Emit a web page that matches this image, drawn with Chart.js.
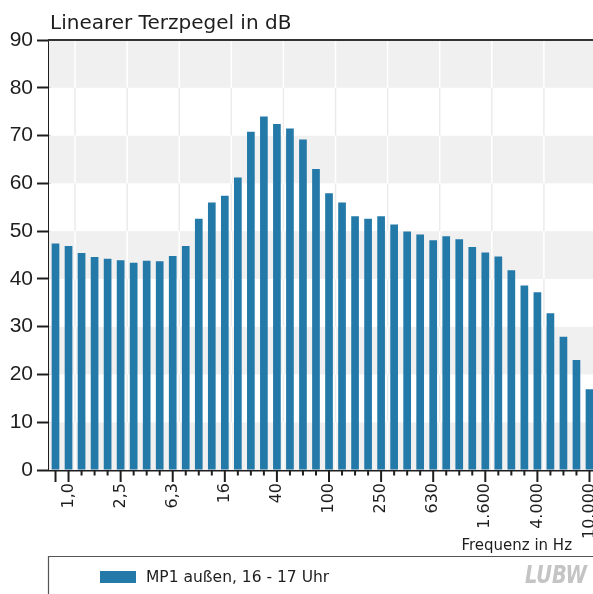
<!DOCTYPE html>
<html>
<head>
<meta charset="utf-8">
<script src="https://cdn.jsdelivr.net/npm/chart.js@4/dist/chart.umd.min.js"></script>
<style>
  html, body { margin: 0; padding: 0; overflow: hidden; background: #ffffff; }
  canvas { display: block; }
</style>
</head>
<body>
<canvas id="c" width="600" height="594"></canvas>
<script>
// Terzband mid frequencies (Hz)
const bands = ['0,8','1,0','1,25','1,6','2,0','2,5','3,15','4,0','5,0','6,3','8,0','10','12,5','16','20','25','31,5','40','50','63','80','100','125','160','200','250','315','400','500','630','800','1.000','1.250','1.600','2.000','2.500','3.150','4.000','5.000','6.300','8.000','10.000'];
// Linear third-octave level in dB, MP1 außen 16-17 Uhr
const levels = [47.4, 46.9, 45.4, 44.6, 44.2, 43.9, 43.4, 43.8, 43.7, 44.8,
                46.9, 52.6, 56.0, 57.4, 61.2, 70.8, 74.0, 72.4, 71.5, 69.2,
                63.0, 57.9, 56.0, 53.1, 52.6, 53.1, 51.4, 49.9, 49.3, 48.1,
                48.9, 48.3, 46.7, 45.5, 44.7, 41.8, 38.6, 37.2, 32.8, 27.9,
                23.0, 16.9];
const shownTicks = ['1,0','2,5','6,3','16','40','100','250','630','1.600','4.000','10.000'];
const seriesLabel = 'MP1 außen, 16 - 17 Uhr';
const yTitle = 'Linearer Terzpegel in dB';
const xTitle = 'Frequenz in Hz';

const BAR = '#2379a8';
const GRAY = '#f0f0f0';
const INK = '#1e1e1e';

const deco = {
  id: 'deco',
  beforeDatasetsDraw(chart) {
    const {ctx, chartArea: a, scales: {x, y}} = chart;
    ctx.save();
    for (let v = 0; v < 90; v += 10) {
      const top = y.getPixelForValue(v + 10), bot = y.getPixelForValue(v);
      const gray = (v / 10) % 2 === 0;
      ctx.fillStyle = gray ? GRAY : '#ffffff';
      ctx.fillRect(a.left, top, chart.width - a.left, bot - top);
      ctx.strokeStyle = gray ? '#ffffff' : '#ebebeb';
      ctx.lineWidth = 1.5;
      for (let k = 1; k + 1 < bands.length; k += 4) {
        const xl = (x.getPixelForValue(k) + x.getPixelForValue(k + 1)) / 2;
        ctx.beginPath();
        ctx.moveTo(xl, top);
        ctx.lineTo(xl, bot);
        ctx.stroke();
      }
    }
    ctx.restore();
  },
  afterDraw(chart) {
    const {ctx, chartArea: a, scales: {x}} = chart;
    const W = chart.width;
    ctx.save();
    // top frame line
    ctx.strokeStyle = '#333333';
    ctx.lineWidth = 2;
    ctx.beginPath();
    ctx.moveTo(a.left - 1, a.top);
    ctx.lineTo(W, a.top);
    ctx.stroke();
    // x tick marks
    ctx.strokeStyle = INK;
    ctx.lineWidth = 2;
    for (let k = 0; k < bands.length; k++) {
      const px = x.getPixelForValue(k);
      const major = shownTicks.includes(bands[k]) || k === 0;
      ctx.beginPath();
      ctx.moveTo(px, a.bottom);
      ctx.lineTo(px, a.bottom + (major ? 12 : 5.5));
      ctx.stroke();
    }
    // titles
    ctx.fillStyle = INK;
    ctx.textBaseline = 'alphabetic';
    ctx.font = '20px "DejaVu Sans"';
    ctx.textAlign = 'left';
    ctx.fillText(yTitle, 50, 29);
    ctx.font = '15px "DejaVu Sans"';
    ctx.textAlign = 'right';
    ctx.fillText(xTitle, 572, 550);
    // legend box
    ctx.strokeStyle = '#555555';
    ctx.lineWidth = 1.2;
    ctx.beginPath();
    ctx.moveTo(W, 556.5);
    ctx.lineTo(48.5, 556.5);
    ctx.lineTo(48.5, 600);
    ctx.stroke();
    const ds = chart.data.datasets[0];
    ctx.fillStyle = ds.backgroundColor;
    ctx.fillRect(100, 571, 36, 12);
    ctx.fillStyle = INK;
    ctx.textAlign = 'left';
    ctx.textBaseline = 'middle';
    ctx.font = '15.5px "DejaVu Sans"';
    ctx.fillText(ds.label, 146, 577.5);
    // logo
    ctx.fillStyle = '#c4c4c4';
    ctx.font = 'italic bold 24px "DejaVu Sans Condensed", "Liberation Sans Narrow", "Liberation Sans", sans-serif';
    const lw = ctx.measureText('LUBW').width;
    ctx.translate(525, 577);
    ctx.scale(62 / lw, 1);
    ctx.fillText('LUBW', 0, 0);
    ctx.restore();
  }
};

new Chart(document.getElementById('c'), {
  type: 'bar',
  data: {
    labels: bands,
    datasets: [{
      label: seriesLabel,
      data: levels,
      backgroundColor: BAR,
      borderWidth: 0,
      barPercentage: 0.59,
      categoryPercentage: 1.0
    }]
  },
  options: {
    responsive: false,
    animation: false,
    devicePixelRatio: 1,
    layout: { padding: { top: 40, right: 4, left: 0, bottom: 0 } },
    plugins: { legend: { display: false }, tooltip: { enabled: false }, title: { display: false } },
    scales: {
      x: {
        z: 1,
        offset: true,
        grid: { display: false, drawTicks: false },
        border: { display: true, color: INK, width: 2.5 },
        ticks: {
          autoSkip: false,
          maxRotation: 90,
          minRotation: 90,
          padding: 13,
          color: INK,
          font: { family: 'DejaVu Sans', size: 16 },
          callback: function(v, i) {
            const l = bands[i];
            return shownTicks.includes(l) ? l : '';
          }
        },
        afterFit(s) { s.height = 124; s.paddingLeft = 0; s.paddingRight = 0; }
      },
      y: {
        z: 1,
        min: 0,
        max: 90,
        grid: { drawOnChartArea: false, drawTicks: true, tickLength: 12, tickColor: INK, tickWidth: 2 },
        border: { display: true, color: INK, width: 2.5 },
        ticks: {
          stepSize: 10,
          padding: 4,
          color: INK,
          font: { family: 'Liberation Sans', size: 21 }
        },
        afterFit(s) { s.width = 49; }
      }
    }
  },
  plugins: [deco]
});
</script>
</body>
</html>
